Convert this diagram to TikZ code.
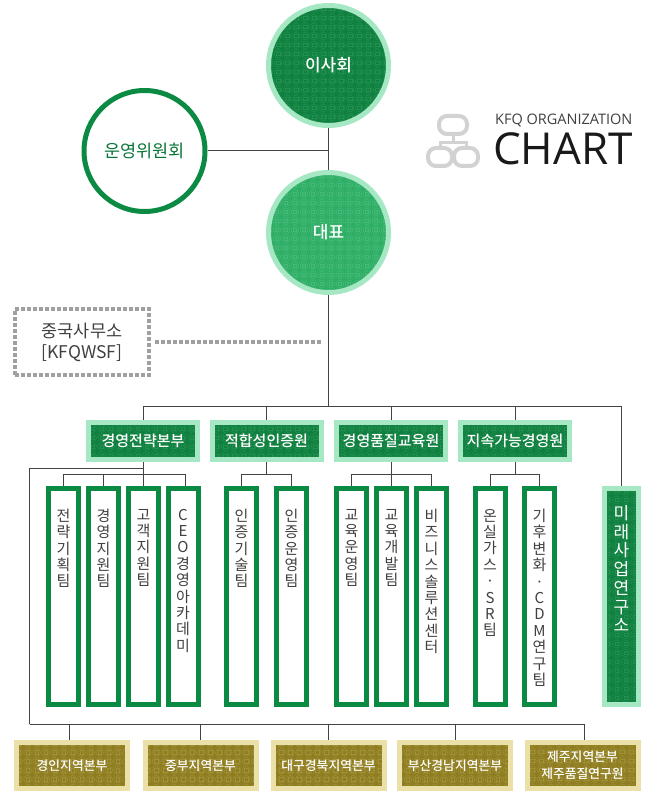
\documentclass[tikz,border=0pt]{standalone}
\usepackage{fontspec}
\setmainfont{Noto Sans CJK KR}[BoldFont={Noto Sans CJK KR Medium}]
\newfontfamily\logofont{Open Sans}
\usetikzlibrary{positioning}
\definecolor{mintring}{HTML}{A6E8C4}
\definecolor{darkgreen}{HTML}{0F8040}
\definecolor{darktile}{HTML}{23904F}
\definecolor{midgreen}{HTML}{2FAE66}
\definecolor{midtile}{HTML}{46BA79}
\definecolor{teamgreen}{HTML}{0A8A42}
\definecolor{goldring}{HTML}{EAE0A8}
\definecolor{golddark}{HTML}{8F7D22}
\definecolor{goldtile}{HTML}{A09036}
\definecolor{linegray}{HTML}{444444}
\definecolor{dashgray}{HTML}{A0A0A0}
\definecolor{logogray}{HTML}{D2D2D2}
\newcommand{\teamstack}[1]{\parbox[c][206pt][t]{28pt}{\centering\vspace*{15.5pt}\fontsize{15}{16.4}\selectfont #1}}
\newcommand{\labstack}[1]{\parbox[c][206pt][t]{28pt}{\centering\vspace*{12pt}\fontsize{17}{18.7}\selectfont #1}}
\tikzset{
	tile/.style n args={3}{path picture={
		\foreach \i in {-#2,...,#2} \foreach \j in {-#3,...,#3} {
			\draw[#1,line width=.45pt] (9*\i,9*\j) circle (3.9);
			\draw[#1,line width=.45pt] (9*\i-1.7,9*\j-1.7) rectangle (9*\i+1.7,9*\j+1.7);
		}
	}},
	link/.style={draw=linegray,line width=1pt},
	bigcircle/.style={circle,draw=mintring,line width=5pt,minimum size=120pt,inner sep=0pt,text=white,font=\fontsize{17}{20}\selectfont\bfseries},
	division/.style={draw=mintring,line width=5pt,fill=darkgreen,tile={darktile}{12}{4},minimum width=109pt,minimum height=37pt,inner sep=0pt,text=white,font=\fontsize{15}{17}\selectfont\bfseries},
	teambox/.style={draw=teamgreen,line width=5pt,fill=white,minimum width=30pt,minimum height=216pt,inner sep=0pt,text=black!75},
	region/.style={draw=goldring,line width=5pt,fill=golddark,tile={goldtile}{12}{4},minimum width=111pt,minimum height=46pt,inner sep=0pt,text=white,align=center,font=\fontsize{12.8}{17}\selectfont\bfseries},
	logobox/.style={draw=logogray,line width=4pt,rounded corners=8pt,fill=white,inner sep=0pt},
}
\begin{document}
\begin{tikzpicture}[x=1pt,y=-1pt]
	\useasboundingbox (0,0) rectangle (657,802);
	% top circles
	\node[bigcircle,fill=darkgreen,tile={darktile}{11}{8}] (board) at (328.5,65.5) {이사회};
	\node[bigcircle,fill=midgreen,tile={midtile}{11}{8}] (ceo) at (328.5,232.5) {대표};
	\node[circle,draw=teamgreen,line width=5pt,minimum size=121pt,inner sep=0pt,text=teamgreen!85!black,font=\fontsize{17.5}{20}\selectfont] (committee) at (144.5,151) {운영위원회};
	% logo
	\node[logobox,minimum width=28pt,minimum height=18pt] (logotop) at (453,125) {};
	\node[logobox,minimum width=24pt,minimum height=18pt] (logoleft) at (440,157) {};
	\node[logobox,minimum width=24pt,minimum height=18pt] (logoright) at (466,157) {};
	\coordinate (logohub) at (453,143);
	\draw[logogray,line width=3pt] (logotop) -- (logohub) (logoleft.north) |- (logohub) -| (logoright.north);
	\node[anchor=west,inner sep=0pt,text=black!75,font=\logofont\fontsize{14.5}{17}\selectfont] (kfq) at (495,120.5) {KFQ ORGANIZATION};
	\node[anchor=west,inner sep=0pt,text=black!90,font=\logofont\fontsize{44}{50}\selectfont] (chart) at (493,149) {CHART};
	% china office
	\node[draw=dashgray,line width=4pt,dash pattern=on 4pt off 2pt,minimum width=134pt,minimum height=66pt,inner sep=0pt,align=center,text=black!75,font=\fontsize{17.5}{21}\selectfont] (china) at (82,342) {중국사무소\\{[KFQWSF]}};
	% divisions
	\node[division] (strategy) at (143,441) {경영전략본부};
	\node[division] (conform) at (266.5,441) {적합성인증원};
	\node[division] (quality) at (391,441) {경영품질교육원};
	\node[division] (sustain) at (515,441) {지속가능경영원};
	% teams
	\node[teambox] (plan) at (63.5,596.5) {\teamstack{전\\략\\기\\획\\팀}};
	\node[teambox] (support) at (103.5,596.5) {\teamstack{경\\영\\지\\원\\팀}};
	\node[teambox] (customer) at (143.5,596.5) {\teamstack{고\\객\\지\\원\\팀}};
	\node[teambox] (academy) at (183,596.5) {\teamstack{C\\E\\O\\경\\영\\아\\카\\데\\미}};
	\node[teambox] (certtech) at (241.5,596.5) {\teamstack{인\\증\\기\\술\\팀}};
	\node[teambox] (certop) at (291.5,596.5) {\teamstack{인\\증\\운\\영\\팀}};
	\node[teambox] (eduop) at (351.5,596.5) {\teamstack{교\\육\\운\\영\\팀}};
	\node[teambox] (edudev) at (391.5,596.5) {\teamstack{교\\육\\개\\발\\팀}};
	\node[teambox] (bizsol) at (431.5,596.5) {\teamstack{비\\즈\\니\\스\\솔\\루\\션\\센\\터}};
	\node[teambox] (ghg) at (490,596.5) {\teamstack{온\\실\\가\\스\\·\\S\\R\\팀}};
	\node[teambox] (climate) at (539.5,596.5) {\teamstack{기\\후\\변\\화\\·\\C\\D\\M\\연\\구\\팀}};
	\node[draw=mintring,line width=5pt,fill=darkgreen,tile={darktile}{4}{14},minimum width=34pt,minimum height=216pt,inner sep=0pt,text=white] (future) at (621.5,596.5) {\labstack{미\\래\\사\\업\\연\\구\\소}};
	% regions
	\node[region] (gyeongin) at (72,765.5) {경인지역본부};
	\node[region] (jungbu) at (200.5,765.5) {중부지역본부};
	\node[region] (daegu) at (328.5,765.5) {대구경북지역본부};
	\node[region] (busan) at (455,765.5) {부산경남지역본부};
	\node[region] (jeju) at (582.5,765.5) {제주지역본부\\제주품질연구원};
	% trunk
	\coordinate (mainbar) at (328.5,406);
	\coordinate (boardhub) at (328.5,151);
	\coordinate (chinaend) at (328.5,342);
	\draw[link] (board) -- (ceo);
	\draw[link] (committee) -- (boardhub);
	\draw[link] (ceo) -- (mainbar);
	\draw[dashgray,line width=4pt,dash pattern=on 4pt off 2pt,shorten <=4pt,shorten >=6pt] (china) -- (chinaend);
	\foreach \n in {strategy,conform,quality,sustain,future}
		\draw[link] (mainbar) -| (\n.north);
	% team branches
	\coordinate (planbar) at (143,474);
	\coordinate (confbar) at (266.5,474);
	\coordinate (qualbar) at (391,474);
	\coordinate (sustbar) at (515,474);
	\draw[link] (strategy) -- (planbar);
	\draw[link] (conform) -- (confbar);
	\draw[link] (quality) -- (qualbar);
	\draw[link] (sustain) -- (sustbar);
	\foreach \n in {plan,support,customer}
		\draw[link] (planbar) -| (\n.north);
	\draw[link] (planbar) -| ([xshift=2pt]academy.north);
	\foreach \n in {certtech,certop}
		\draw[link] (confbar) -| (\n.north);
	\foreach \n in {eduop,edudev,bizsol}
		\draw[link] (qualbar) -| (\n.north);
	\foreach \n in {ghg,climate}
		\draw[link] (sustbar) -| (\n.north);
	% region branch
	\coordinate (regiontop) at (143,468);
	\coordinate (regionleft) at (29.5,724);
	\draw[link] (regiontop) -| (regionleft);
	\foreach \n in {jungbu,daegu,busan}
		\draw[link] (regionleft) -| (\n.north);
	\draw[link] (regionleft) -| ([xshift=-3pt]gyeongin.north);
	\draw[link] (regionleft) -| ([xshift=1.5pt]jeju.north);
\end{tikzpicture}
\end{document}
